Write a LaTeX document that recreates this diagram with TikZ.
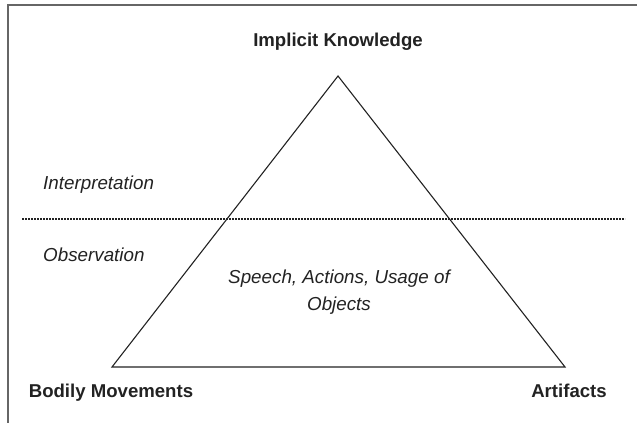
\documentclass[tikz,border=0pt]{standalone}
\usepackage{fontspec}
\setmainfont{Liberation Sans}
\definecolor{ink}{HTML}{222222}
\definecolor{frame}{HTML}{666666}
\begin{document}
\begin{tikzpicture}[x=1pt,y=-1pt,
  boldlabel/.style={font=\fontsize{18.6}{21}\selectfont\bfseries, text=ink, inner sep=0pt, anchor=base},
  itlabel/.style={font=\fontsize{18.8}{21}\selectfont\itshape, text=ink, inner sep=0pt, anchor=base west},
  centerlabel/.style={font=\fontsize{18.8}{27}\selectfont\itshape, text=ink, inner sep=0pt, align=center, anchor=base},
  edge/.style={draw=ink, line width=1.1pt, line join=miter},
  sep/.style={draw=ink, line width=1.8pt, dash pattern=on 1.8pt off 1.2pt},
  frameline/.style={draw=frame, line width=1.6pt}]
\useasboundingbox (0,0) rectangle (637,423);
% frame
\coordinate (ftl) at (8,5);
\coordinate (ftr) at (637,5);
\coordinate (fbl) at (8,423);
\draw[frameline] (ftr) -- (ftl) -- (fbl);
% triangle
\coordinate (top) at (338,76);
\coordinate (bl) at (112,367);
\coordinate (br) at (565,367);
\draw[edge] (top) -- (bl) -- (br) -- cycle;
% dotted separator
\coordinate (dl) at (22,219);
\coordinate (dr) at (625,219);
\draw[sep] (dl) -- (dr);
% labels
\node[boldlabel] (ik) at (338,46) {Implicit Knowledge};
\node[boldlabel] (bm) at (111,397) {Bodily Movements};
\node[boldlabel] (art) at (569,397) {Artifacts};
\node[itlabel] (interp) at (43,189) {Interpretation};
\node[itlabel] (obs) at (43,261) {Observation};
\node[centerlabel] (sp) at (339,310) {Speech, Actions, Usage of\\Objects};
\end{tikzpicture}
\end{document}
